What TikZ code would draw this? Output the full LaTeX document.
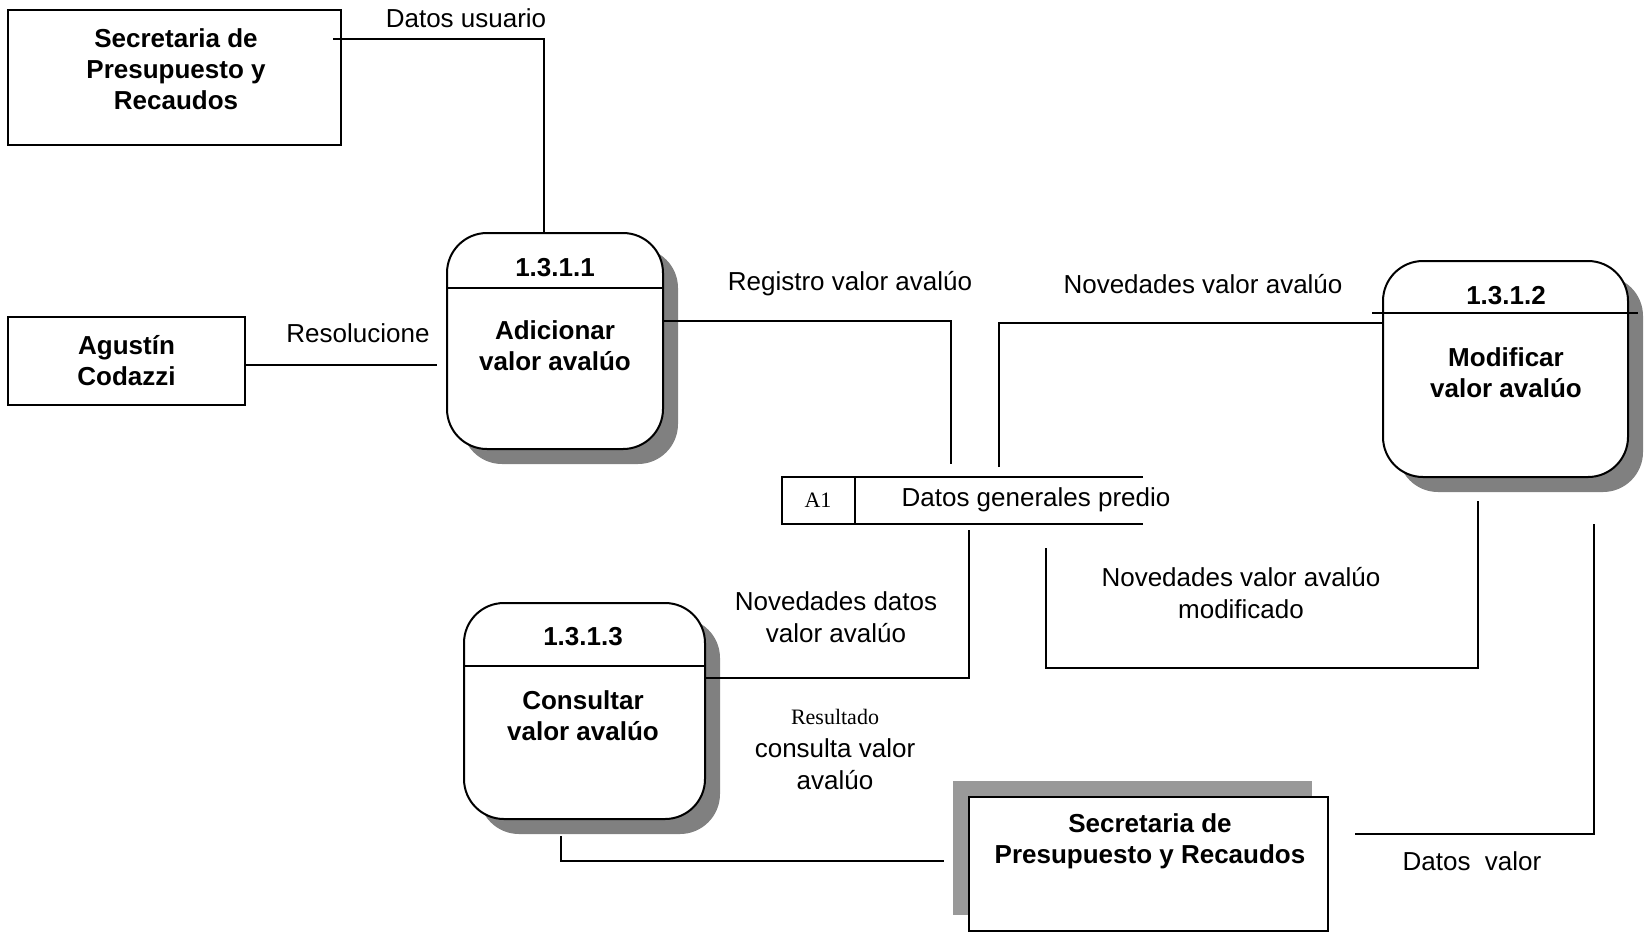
\documentclass[tikz,border=0pt]{standalone}
\usepackage{fontspec}
\setmainfont{Liberation Sans}
\newfontfamily\timesfont{Liberation Serif}
\usetikzlibrary{shadows}

\tikzset{
  flujo/.style={line width=1pt},
  entidad/.style={draw, line width=1pt, fill=white, inner sep=0pt},
  proceso/.style={draw, line width=1pt, fill=white, rounded corners=20pt, inner sep=0pt,
    minimum height=108pt,
    drop shadow={shadow xshift=7.5pt, shadow yshift=-7.5pt, fill=black!50, opacity=1}},
  titulo/.style={font=\bfseries\fontsize{13}{15.5}\selectfont, align=center},
  etiqueta/.style={font=\fontsize{13}{16}\selectfont, align=center},
}

\begin{document}
\begin{tikzpicture}[x=0.5pt,y=-0.5pt]
  \useasboundingbox (0,0) rectangle (1644,933);

  % entidades externas
  \node[entidad, minimum width=166.5pt, minimum height=67.5pt] (spr) at (174.5,77.5) {};
  \node[titulo] (sprtxt) at (176,69) {Secretaria de\\Presupuesto y\\Recaudos};
  \node[entidad, titulo, minimum width=118.5pt, minimum height=44pt] (igac) at (126.5,361) {Agust\'in\\Codazzi};
  \node[entidad, minimum width=179.5pt, minimum height=67pt,
    general shadow={fill=black!40, shadow xshift=-8pt, shadow yshift=8pt}] (spr2) at (1148.5,864) {};
  \node[titulo] (spr2txt) at (1150,841.5) {Secretaria de\\Presupuesto y Recaudos};

  % procesos
  \node[proceso, minimum width=108pt] (p1) at (555,341) {};
  \draw[flujo] (447,288) -- (663,288);
  \node[titulo] (p1num) at (555,268) {1.3.1.1};
  \node[titulo] (p1txt) at (555,346) {Adicionar\\valor aval\'uo};

  \node[proceso, minimum width=122.5pt] (p2) at (1505.5,369) {};
  \draw[flujo] (1372,313) -- (1638,313);
  \node[titulo] (p2num) at (1506,296) {1.3.1.2};
  \node[titulo] (p2txt) at (1506,373) {Modificar\\valor aval\'uo};

  \node[proceso, minimum width=120.5pt] (p3) at (584.5,711) {};
  \draw[flujo] (464,666) -- (705,666);
  \node[titulo] (p3num) at (583,637) {1.3.1.3};
  \node[titulo] (p3txt) at (583,716) {Consultar\\valor aval\'uo};

  % almacen
  \draw[flujo] (1143,477) -- (782,477) -- (782,524) -- (1143,524);
  \draw[flujo] (855,477) -- (855,524);
  \node[font=\timesfont\fontsize{11}{13}\selectfont] (a1) at (818,500) {A1};
  \node[etiqueta] (a1txt) at (1036,500) {Datos generales predio};

  % flujos
  \coordinate (du1) at (333,39);
  \coordinate (du2) at (544,233);
  \draw[flujo] (du1) -| (du2);
  \node[etiqueta] (l1) at (466,18) {Datos usuario};

  \coordinate (re2) at (437,365);
  \draw[flujo] (igac.east |- re2) -- (re2);
  \node[etiqueta] (l2) at (358,333) {Resolucione};

  \coordinate (rv1) at (663,321);
  \coordinate (rv2) at (951,464);
  \draw[flujo] (rv1) -| (rv2);
  \node[etiqueta] (l3) at (850,284) {Registro valor aval\'uo};

  \coordinate (nv1) at (999,467);
  \coordinate (nv2) at (1382,323);
  \draw[flujo] (nv1) |- (nv2);
  \node[etiqueta] (l4) at (1203,284) {Novedades valor aval\'uo};

  \coordinate (nd1) at (969,530);
  \coordinate (nd2) at (705,678);
  \draw[flujo] (nd1) |- (nd2);
  \node[etiqueta] (l5) at (836,617) {Novedades datos\\valor aval\'uo};

  \coordinate (nm1) at (1046,548);
  \coordinate (nm2) at (1478,668);
  \coordinate (nm3) at (1478,501);
  \draw[flujo] (nm1) |- (nm2) -- (nm3);
  \node[etiqueta] (l6) at (1241,593) {Novedades valor aval\'uo\\modificado};

  \coordinate (rc1) at (561,836);
  \coordinate (rc2) at (944,861);
  \draw[flujo] (rc1) |- (rc2);
  \node[font=\timesfont\fontsize{11}{13}\selectfont] (l7a) at (835,717) {Resultado};
  \node[etiqueta] (l7b) at (835,764.5) {consulta valor\\aval\'uo};

  \coordinate (dv1) at (1355,834);
  \coordinate (dv2) at (1594,524);
  \draw[flujo] (dv1) -| (dv2);
  \node[etiqueta] (l8) at (1472,861) {Datos\ \ valor};
\end{tikzpicture}
\end{document}
